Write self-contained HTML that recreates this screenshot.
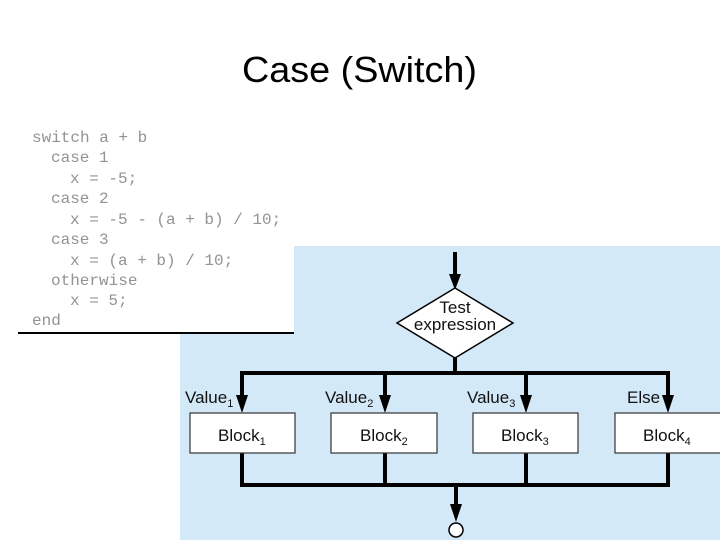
<!DOCTYPE html>
<html><head><meta charset="utf-8"><style>
html,body{margin:0;padding:0;background:#fff;}
svg{display:block;}
</style></head><body>
<svg width="720" height="540" viewBox="0 0 720 540" xmlns="http://www.w3.org/2000/svg">
<rect width="720" height="540" fill="#fff"/>
<text x="242" y="82" font-family="Liberation Sans, sans-serif" font-size="36" fill="#000" textLength="235" lengthAdjust="spacingAndGlyphs">Case (Switch)</text>
<rect x="180" y="246" width="540" height="294" fill="#d4e9f8"/>
<rect x="180" y="246" width="114" height="87" fill="#fff"/>
<line x1="18" y1="333" x2="294" y2="333" stroke="#000" stroke-width="2"/>
<g font-family="Liberation Mono, monospace" font-size="16" fill="#939393">
<text x="32" y="142">switch a + b</text>
<text x="51" y="162">case 1</text>
<text x="70" y="183">x = -5;</text>
<text x="51" y="203">case 2</text>
<text x="70" y="224">x = -5 - (a + b) / 10;</text>
<text x="51" y="244">case 3</text>
<text x="70" y="265">x = (a + b) / 10;</text>
<text x="51" y="285">otherwise</text>
<text x="70" y="305">x = 5;</text>
<text x="32" y="325">end</text>
</g>
<g stroke="#000" stroke-width="4" fill="none">
<line x1="455" y1="252" x2="455" y2="276"/>
<line x1="455" y1="358" x2="455" y2="374"/>
<polyline points="242,396 242,373 668,373 668,396"/>
<line x1="385" y1="373" x2="385" y2="396"/>
<line x1="526" y1="373" x2="526" y2="396"/>
<polyline points="242,453 242,485 668,485 668,453"/>
<line x1="385" y1="453" x2="385" y2="485"/>
<line x1="526" y1="453" x2="526" y2="485"/>
<line x1="456" y1="485" x2="456" y2="506"/>
</g>
<g fill="#000">
<polygon points="449,274 461,274 455,290"/>
<polygon points="236,395 248,395 242,413"/>
<polygon points="379,395 391,395 385,413"/>
<polygon points="520,395 532,395 526,413"/>
<polygon points="662,395 674,395 668,413"/>
<polygon points="450,504 462,504 456,522"/>
</g>
<polygon points="455,288 513,323 455,358 397,323" fill="#fff" stroke="#000" stroke-width="1.5"/>
<circle cx="456" cy="530" r="7" fill="#fff" stroke="#000" stroke-width="1.5"/>
<g fill="#fff" stroke="#333" stroke-width="1.2">
<rect x="190" y="413" width="105" height="40"/>
<rect x="331" y="413" width="106" height="40"/>
<rect x="473" y="413" width="105" height="40"/>
<rect x="615" y="413" width="110" height="40"/>
</g>
<g font-family="Liberation Sans, sans-serif" font-size="17" fill="#111">
<text x="455" y="313" text-anchor="middle">Test</text>
<text x="455" y="330" text-anchor="middle">expression</text>
<text x="185" y="403">Value<tspan font-size="11" dy="4">1</tspan></text>
<text x="325" y="403">Value<tspan font-size="11" dy="4">2</tspan></text>
<text x="467" y="403">Value<tspan font-size="11" dy="4">3</tspan></text>
<text x="627" y="403">Else</text>
<text x="218" y="441">Block<tspan font-size="11" dy="4">1</tspan></text>
<text x="360" y="441">Block<tspan font-size="11" dy="4">2</tspan></text>
<text x="501" y="441">Block<tspan font-size="11" dy="4">3</tspan></text>
<text x="643" y="441">Block<tspan font-size="11" dy="4">4</tspan></text>
</g>
</svg>
</body></html>
